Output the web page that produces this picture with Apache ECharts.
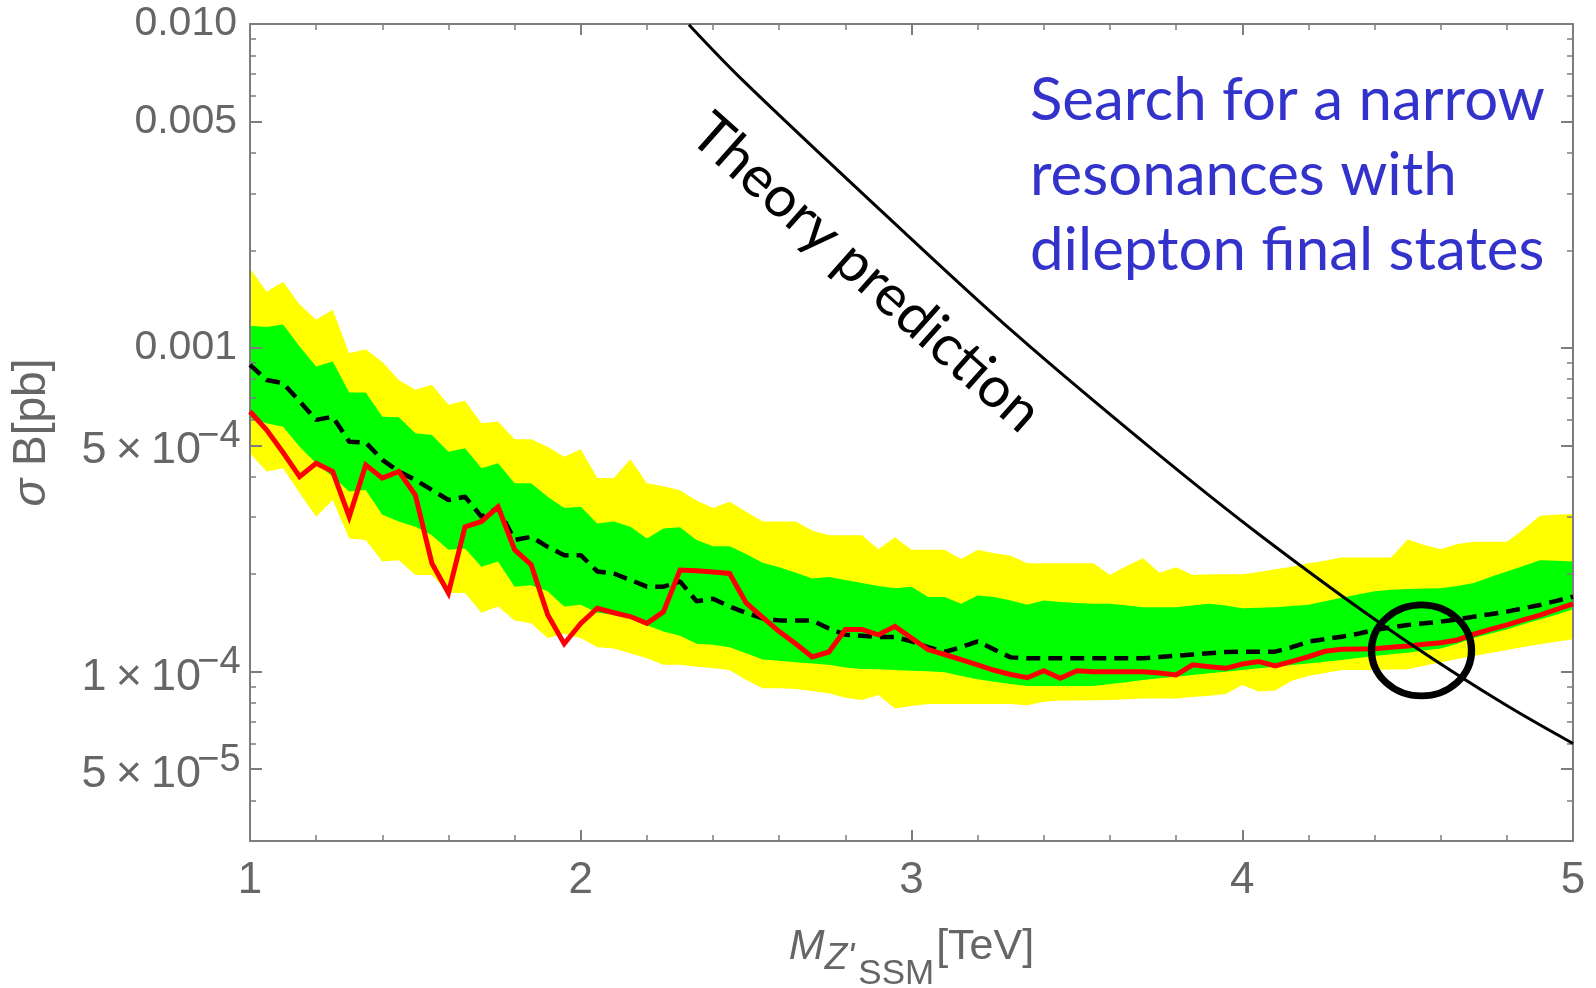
<!DOCTYPE html>
<html>
<head>
<meta charset="utf-8">
<script src="https://cdn.jsdelivr.net/npm/echarts@6/dist/echarts.min.js"></script>
<style>
  html, body { margin: 0; padding: 0; background: #ffffff; }
  #chart { width: 1596px; height: 988px; }
</style>
</head>
<body>
<div id="chart"></div>
<script>
// Z'_SSM dilepton resonance search: cross-section x branching-ratio limits vs mass.
// Limit values are listed in units of 1e-4 pb.
const UNIT = 1e-4;

const massTeV = [
  1.00, 1.05, 1.10, 1.15, 1.20, 1.25, 1.30, 1.35, 1.40, 1.45,
  1.50, 1.55, 1.60, 1.65, 1.70, 1.75, 1.80, 1.85, 1.90, 1.95,
  2.00, 2.05, 2.10, 2.15, 2.20, 2.25, 2.30, 2.35, 2.40, 2.45,
  2.50, 2.55, 2.60, 2.65, 2.70, 2.75, 2.80, 2.85, 2.90, 2.95,
  3.00, 3.05, 3.10, 3.15, 3.20, 3.25, 3.30, 3.35, 3.40, 3.45,
  3.50, 3.55, 3.60, 3.65, 3.70, 3.75, 3.80, 3.85, 3.90, 3.95,
  4.00, 4.05, 4.10, 4.15, 4.20, 4.25, 4.30, 4.35, 4.40, 4.45,
  4.50, 4.55, 4.60, 4.65, 4.70, 4.75, 4.80, 4.85, 4.90, 4.95, 5.00
];

// +2 sigma edge of the expected limit
const band2High = [
  17.6, 14.9, 16.0, 13.6, 12.2, 13.1, 9.63, 9.90, 9.05, 7.96,
  7.42, 7.69, 6.67, 6.87, 5.85, 5.92, 5.22, 5.22, 4.95, 4.61,
  4.86, 3.96, 3.96, 4.53, 3.82, 3.74, 3.63, 3.38, 3.20, 3.35,
  3.12, 2.91, 2.91, 2.91, 2.73, 2.64, 2.64, 2.64, 2.39, 2.60,
  2.38, 2.38, 2.38, 2.23, 2.38, 2.32, 2.28, 2.16, 2.16, 2.16,
  2.16, 2.16, 1.99, 2.12, 2.24, 2.02, 2.10, 1.99, 2.00, 2.00,
  2.00, 2.03, 2.07, 2.11, 2.16, 2.20, 2.25, 2.25, 2.25, 2.25,
  2.56, 2.46, 2.39, 2.48, 2.52, 2.52, 2.52, 2.75, 3.03, 3.05, 3.07
];

// +1 sigma edge
const band1High = [
  11.7, 11.6, 11.8, 10.1, 8.76, 9.07, 7.28, 7.28, 6.13, 6.10,
  5.45, 5.38, 4.78, 4.90, 4.25, 4.40, 3.82, 3.82, 3.47, 3.20,
  3.23, 2.87, 2.91, 2.80, 2.58, 2.77, 2.79, 2.55, 2.44, 2.44,
  2.31, 2.17, 2.10, 2.02, 1.94, 1.96, 1.92, 1.88, 1.84, 1.81,
  1.83, 1.70, 1.70, 1.62, 1.72, 1.70, 1.66, 1.61, 1.66, 1.64,
  1.63, 1.62, 1.62, 1.60, 1.58, 1.58, 1.58, 1.60, 1.62, 1.60,
  1.57, 1.575, 1.58, 1.595, 1.61, 1.65, 1.69, 1.73, 1.77, 1.79,
  1.80, 1.805, 1.81, 1.84, 1.88, 1.96, 2.04, 2.12, 2.21, 2.20, 2.19
];

// -1 sigma edge
const band1Low = [
  6.06, 5.85, 5.71, 4.95, 4.40, 4.00, 3.60, 3.64, 3.05, 2.91,
  2.80, 2.64, 2.38, 2.40, 2.11, 2.19, 1.83, 1.85, 1.77, 1.59,
  1.61, 1.52, 1.50, 1.46, 1.39, 1.33, 1.29, 1.22, 1.21, 1.19,
  1.14, 1.09, 1.08, 1.07, 1.06, 1.05, 1.03, 1.02, 1.017, 1.012,
  1.007, 1.003, 0.996, 0.970, 0.947, 0.931, 0.916, 0.903, 0.903, 0.903,
  0.903, 0.903, 0.916, 0.927, 0.943, 0.955, 0.965, 0.977, 0.989, 1.000,
  1.012, 1.024, 1.036, 1.048, 1.060, 1.073, 1.087, 1.102, 1.118, 1.131,
  1.145, 1.162, 1.180, 1.22, 1.27, 1.31, 1.35, 1.40, 1.45, 1.50, 1.56
];

// -2 sigma edge
const band2Low = [
  4.73, 4.15, 4.25, 3.56, 3.01, 3.39, 2.58, 2.55, 2.19, 2.21,
  1.99, 1.99, 1.75, 1.75, 1.52, 1.59, 1.44, 1.41, 1.27, 1.31,
  1.27, 1.19, 1.18, 1.14, 1.10, 1.05, 1.05, 1.036, 1.024, 1.012,
  0.943, 0.889, 0.889, 0.884, 0.872, 0.858, 0.831, 0.818, 0.847, 0.770,
  0.783, 0.795, 0.795, 0.795, 0.795, 0.795, 0.795, 0.787, 0.808, 0.814,
  0.814, 0.816, 0.818, 0.822, 0.826, 0.826, 0.827, 0.835, 0.843, 0.853,
  0.910, 0.868, 0.874, 0.938, 0.970, 0.990, 1.012, 1.012, 1.012, 1.015,
  1.017, 1.043, 1.069, 1.094, 1.118, 1.142, 1.167, 1.191, 1.215, 1.237, 1.259
];

// Median expected limit
const expectedLimit = [
  8.86, 7.96, 7.78, 6.84, 5.99, 6.13, 5.13, 5.10, 4.51, 4.15,
  3.91, 3.64, 3.39, 3.47, 3.01, 3.20, 2.55, 2.61, 2.43, 2.29,
  2.29, 2.04, 2.01, 1.92, 1.83, 1.83, 1.90, 1.65, 1.68, 1.59,
  1.52, 1.46, 1.44, 1.44, 1.44, 1.36, 1.30, 1.29, 1.28, 1.28,
  1.24, 1.19, 1.15, 1.19, 1.24, 1.17, 1.107, 1.10, 1.10, 1.10,
  1.10, 1.10, 1.10, 1.10, 1.10, 1.11, 1.12, 1.13, 1.14, 1.15,
  1.153, 1.153, 1.153, 1.19, 1.238, 1.26, 1.282, 1.31, 1.345, 1.37,
  1.394, 1.41, 1.427, 1.45, 1.479, 1.505, 1.533, 1.57, 1.607, 1.655, 1.705
];

// Observed limit
const observedLimit = [
  6.36, 5.58, 4.75, 4.00, 4.40, 4.15, 3.01, 4.35, 3.96, 4.15,
  3.51, 2.16, 1.75, 2.80, 2.91, 3.23, 2.38, 2.14, 1.50, 1.22,
  1.41, 1.57, 1.52, 1.48, 1.41, 1.53, 2.06, 2.05, 2.03, 2.01,
  1.63, 1.47, 1.33, 1.22, 1.11, 1.15, 1.35, 1.35, 1.30, 1.38,
  1.27, 1.17, 1.13, 1.09, 1.05, 1.01, 0.98, 0.958, 1.007, 0.954,
  1.007, 1.00, 1.00, 1.00, 1.00, 0.99, 0.977, 1.05, 1.036, 1.024,
  1.056, 1.074, 1.041, 1.076, 1.112, 1.156, 1.173, 1.175, 1.178, 1.19,
  1.20, 1.215, 1.229, 1.253, 1.305, 1.35, 1.394, 1.445, 1.496, 1.557, 1.618
];

// Theory cross-section curve (enters the frame at the 0.01 pb edge)
const theoryMass = [2.327, 2.49, 2.91, 3.31, 3.73, 4.06, 4.44, 4.77, 5.00];
const theoryXsec = [99.5, 67.0, 26.4, 11.14, 4.84, 2.61, 1.36, 0.82, 0.60];

// Where the observed limit meets the theory curve
const crossingMass = 4.542;
const crossingXsec = 1.163;

// Axis ticks
const yMajorTicks = [5e-5, 1e-4, 5e-4, 1e-3, 5e-3, 1e-2];
const yMinorTicks = [4e-5, 6e-5, 7e-5, 8e-5, 9e-5,
                     2e-4, 3e-4, 4e-4, 6e-4, 7e-4, 8e-4, 9e-4,
                     2e-3, 3e-3, 4e-3, 6e-3, 7e-3, 8e-3, 9e-3];
const Y_MIN = 3e-5, Y_MAX = 1e-2;

const AXIS_GREY = '#7d7d7d';
const LABEL_GREY = '#666666';
const FONT = 'Liberation Sans, Arial, sans-serif';

const pairs = (xs, ys) => xs.map((x, i) => [x, ys[i] * UNIT]);
const bandRows = (xs, lo, hi) => xs.map((x, i) => [x, lo[i] * UNIT, hi[i] * UNIT]);

// Draws one filled band (lower edge -> upper edge) as a single polygon.
function bandRenderer(color) {
  return function (params, api) {
    if (params.dataIndexInside !== 0) return null;
    const n = params.dataInsideLength;
    const upper = [], lower = [];
    for (let j = 0; j < n; j++) {
      const x = api.value(0, j);
      upper.push(api.coord([x, api.value(2, j)]));
      lower.push(api.coord([x, api.value(1, j)]));
    }
    return {
      type: 'polygon',
      shape: { points: upper.concat(lower.reverse()) },
      style: { fill: color, stroke: null },
      silent: true
    };
  };
}

function yTickLabel(v) {
  if (v > 9.9e-4) return v.toFixed(3);
  const e = Math.floor(Math.log10(v) + 1e-9);
  const m = Math.round(v / Math.pow(10, e));
  return '{m|' + m + '\u2009\u00d7\u200910}{e|\u2212' + (-e) + '}';
}

const tickLine = { color: AXIS_GREY, width: 2 };
const minorLine = { color: AXIS_GREY, width: 1.5 };

function yAxisDef(position, ticks, len, withLabels, withLine) {
  return {
    type: 'log', logBase: 10, min: Y_MIN, max: Y_MAX, position: position, z: 2,
    axisLine: { show: withLine, lineStyle: { color: AXIS_GREY, width: 2 } },
    axisTick: { show: true, inside: true, length: len, customValues: ticks,
                lineStyle: len > 8 ? tickLine : minorLine },
    minorTick: { show: false },
    splitLine: { show: false },
    axisLabel: withLabels ? {
      show: true, customValues: yMajorTicks, margin: 13,
      fontFamily: FONT, fontSize: 41, color: LABEL_GREY,
      formatter: yTickLabel,
      rich: {
        m: { fontFamily: FONT, fontSize: 45, color: LABEL_GREY, verticalAlign: 'bottom', lineHeight: 56 },
        e: { fontFamily: FONT, fontSize: 38, color: LABEL_GREY, verticalAlign: 'top', width: 36, align: 'left' }
      }
    } : { show: false }
  };
}

function xAxisDef(position, withLabels) {
  const ax = {
    type: 'value', min: 1, max: 5, interval: 1, position: position, z: 2,
    axisLine: { show: true, onZero: false, lineStyle: { color: AXIS_GREY, width: 2 } },
    axisTick: { show: true, inside: true, length: 11, lineStyle: tickLine },
    minorTick: { show: true, splitNumber: 5, length: 6, lineStyle: minorLine },
    splitLine: { show: false },
    minorSplitLine: { show: false },
    axisLabel: withLabels ? {
      show: true, margin: 18, fontFamily: FONT, fontSize: 44, color: LABEL_GREY
    } : { show: false }
  };
  if (withLabels) {
    ax.name = '{m|M}{z|Z\'}{s|SSM}{u|[TeV]}';
    ax.nameLocation = 'middle';
    ax.nameGap = 85;
    ax.nameMoveOverlap = false;
    ax.nameTextStyle = {
      align: 'center', verticalAlign: 'top', color: LABEL_GREY, fontFamily: FONT,
      rich: {
        m: { fontFamily: FONT, fontSize: 43, fontStyle: 'italic', color: LABEL_GREY, verticalAlign: 'top' },
        z: { fontFamily: FONT, fontSize: 37, fontStyle: 'italic', color: LABEL_GREY, verticalAlign: 'top', padding: [14, 0, 0, 0] },
        s: { fontFamily: FONT, fontSize: 35, color: LABEL_GREY, verticalAlign: 'top', padding: [31, 0, 0, 4] },
        u: { fontFamily: FONT, fontSize: 43, color: LABEL_GREY, verticalAlign: 'top', padding: [0, 0, 0, 2] }
      }
    };
  }
  return ax;
}

const yLeft = yAxisDef('left', yMajorTicks, 12, true, true);
yLeft.name = '{s|\u03c3}{b| B[pb]}';
yLeft.nameLocation = 'middle';
yLeft.nameGap = 218;
yLeft.nameRotate = 90;
yLeft.nameMoveOverlap = false;
yLeft.nameTextStyle = {
  align: 'center', verticalAlign: 'middle', color: LABEL_GREY, fontFamily: FONT,
  rich: {
    s: { fontFamily: FONT, fontSize: 46, fontStyle: 'italic', color: LABEL_GREY },
    b: { fontFamily: FONT, fontSize: 46, color: LABEL_GREY }
  }
};

const option = {
  animation: false,
  backgroundColor: '#ffffff',
  textStyle: { fontFamily: FONT },
  grid: { left: 250, right: 23, top: 24, bottom: 147, containLabel: false, outerBoundsMode: 'none' },
  xAxis: [ xAxisDef('bottom', true), xAxisDef('top', false) ],
  yAxis: [
    yLeft,
    yAxisDef('left', yMinorTicks, 6, false, false),
    yAxisDef('right', yMajorTicks, 12, false, true),
    yAxisDef('right', yMinorTicks, 6, false, false)
  ],
  series: [
    {
      name: '2 sigma band', type: 'custom', z: 1, clip: true, silent: true,
      data: bandRows(massTeV, band2Low, band2High),
      encode: { x: 0, y: [1, 2] },
      renderItem: bandRenderer('#ffff00')
    },
    {
      name: '1 sigma band', type: 'custom', z: 1, clip: true, silent: true,
      data: bandRows(massTeV, band1Low, band1High),
      encode: { x: 0, y: [1, 2] },
      renderItem: bandRenderer('#00ff00')
    },
    {
      name: 'Expected', type: 'line', data: pairs(massTeV, expectedLimit), z: 3,
      symbol: 'none', showSymbol: false,
      lineStyle: { color: '#000000', width: 4.5, type: [14, 8] }
    },
    {
      name: 'Observed', type: 'line', data: pairs(massTeV, observedLimit), z: 4,
      symbol: 'none', showSymbol: false,
      lineStyle: { color: '#ff0000', width: 5, join: 'miter' }
    },
    {
      name: 'Theory', type: 'line', data: pairs(theoryMass, theoryXsec), z: 5,
      symbol: 'none', showSymbol: false, smooth: 0.35, clip: true,
      lineStyle: { color: '#000000', width: 3 }
    },
    {
      name: 'Crossing', type: 'scatter', z: 6, silent: true,
      data: [[crossingMass, crossingXsec * UNIT]],
      symbol: 'path://M0,45.5A50,45.5,0,1,1,100,45.5A50,45.5,0,1,1,0,45.5Z',
      symbolSize: [100, 91],
      itemStyle: { color: 'rgba(0,0,0,0)', borderColor: '#000000', borderWidth: 7, opacity: 1 }
    }
  ],
  graphic: [
    {
      type: 'text', x: 866, y: 273, rotation: -41.7 * Math.PI / 180, z: 10,
      style: {
        text: 'Theory prediction', fontFamily: 'Lato, Open Sans, sans-serif', fontSize: 57,
        fill: '#000000', align: 'center', verticalAlign: 'middle'
      }
    },
    {
      type: 'text', x: 1030, y: 63, z: 10,
      style: {
        text: 'Search for a narrow\nresonances with\ndilepton final states',
        fontFamily: 'Lato, Open Sans, sans-serif', fontSize: 60, lineHeight: 75,
        fill: '#3333cc', align: 'left', verticalAlign: 'top'
      }
    }
  ]
};

const chart = echarts.init(document.getElementById('chart'));
chart.setOption(option);
</script>
</body>
</html>
